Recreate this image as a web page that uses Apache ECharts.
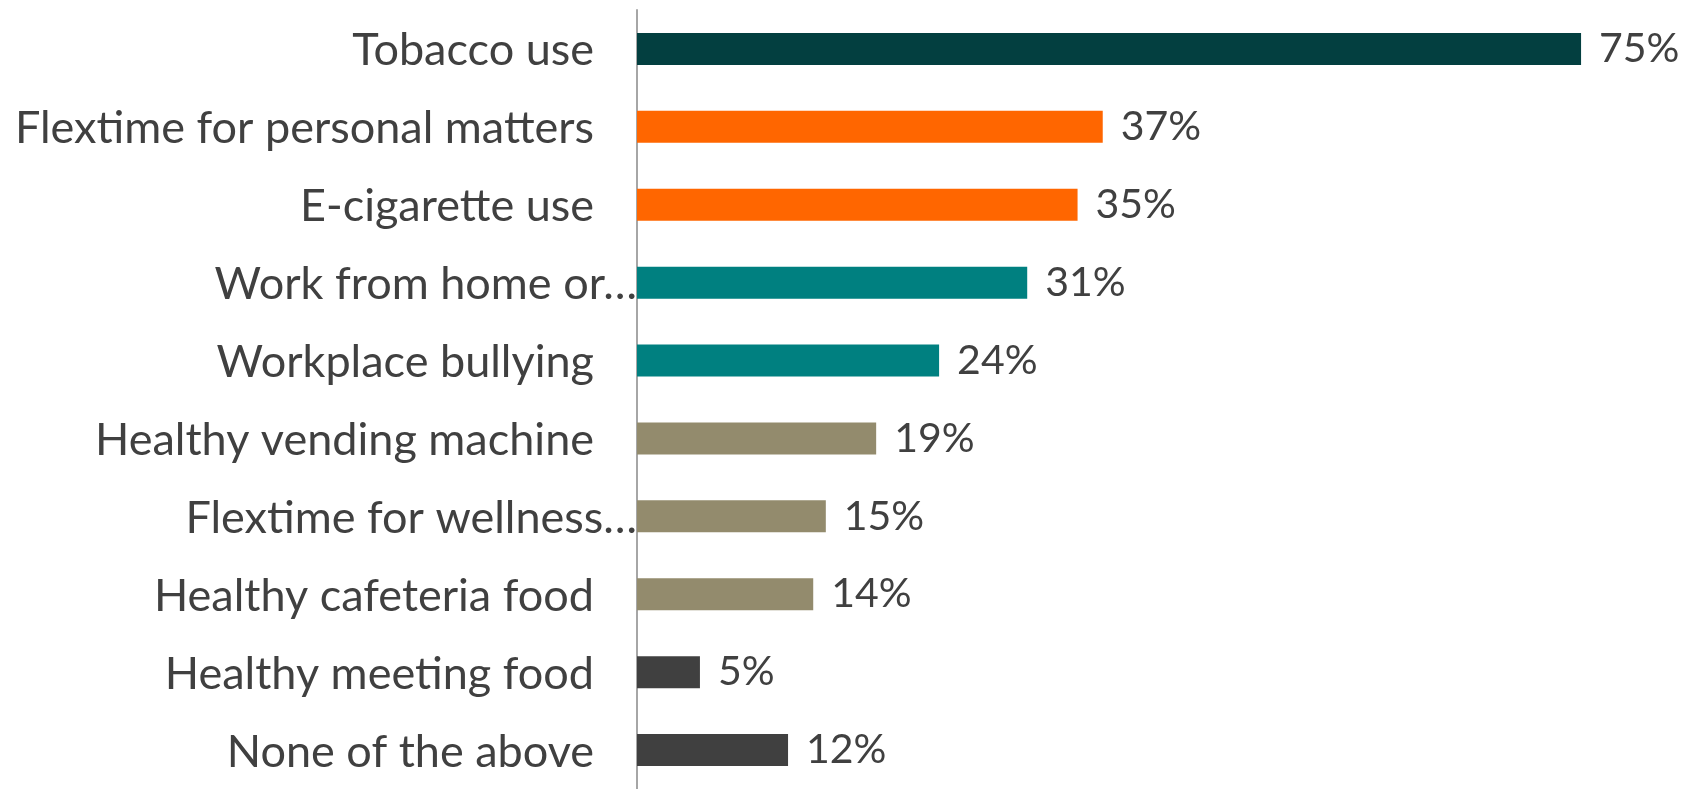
<!DOCTYPE html>
<html>
<head>
<meta charset="utf-8">
<script src="https://cdn.jsdelivr.net/npm/echarts@6/dist/echarts.min.js"></script>
<style>
html,body{margin:0;padding:0;background:#fff;}
#main{width:1696px;height:789px;}
</style>
</head>
<body>
<div id="main"></div>
<script>
// categories top to bottom
var categories = ['Tobacco use', 'Flextime for personal matters', 'E-cigarette use', 'Work from home or…',
    'Workplace bullying', 'Healthy vending machine', 'Flextime for wellness…', 'Healthy cafeteria food',
    'Healthy meeting food', 'None of the above'];
var values = [75, 37, 35, 31, 24, 19, 15, 14, 5, 12];
var barColors = ['#033f40', '#ff6600', '#ff6600', '#008080', '#008080',
    '#938b6d', '#938b6d', '#938b6d', '#404040', '#404040'];

var fontName = 'Lato';
var myChart = echarts.init(document.getElementById('main'));

var data = [];
for (var i = 0; i < values.length; i++) {
    data.push({value: values[i], itemStyle: {color: barColors[i]}});
}

var option = {
    animation: false,
    grid: {left: 637, top: 10, width: 1007, height: 780, containLabel: false},
    xAxis: {
        type: 'value',
        min: 0,
        max: 80,
        show: false
    },
    yAxis: {
        type: 'category',
        inverse: true,
        data: categories,
        axisLine: {show: true, lineStyle: {color: '#a6a6a6', width: 2}},
        axisTick: {show: false},
        axisLabel: {
            margin: 0,
            formatter: function (v) {
                // the truncated labels run right up to the axis
                if (v.charAt(v.length - 1) == '…') {
                    return '{t|' + v + '}';
                }
                return '{t|' + v + '}{g|}';
            },
            rich: {
                t: {fontFamily: fontName, fontSize: 45, color: '#404040', padding: [4, 0, 0, 0]},
                g: {width: 43}
            }
        }
    },
    series: [{
        type: 'bar',
        data: data,
        barWidth: 32,
        label: {
            show: true,
            position: 'right',
            distance: 18,
            formatter: '{c}%',
            fontFamily: fontName,
            fontSize: 41,
            color: '#404040'
        }
    }]
};
myChart.setOption(option);
</script>
</body>
</html>
